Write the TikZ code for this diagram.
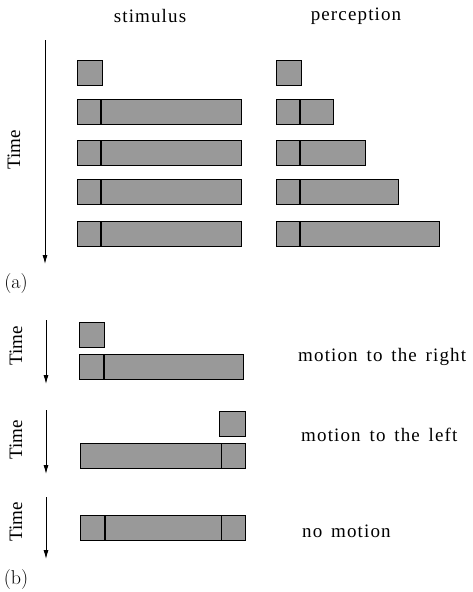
\documentclass[tikz,border=0pt]{standalone}
\usepackage{fontspec}
\setmainfont{Liberation Serif}
\newfontfamily\spc[LetterSpace=6,WordSpace=1.5]{Liberation Serif}
\newfontfamily\lmr{Latin Modern Roman}
\usetikzlibrary{arrows.meta}
\begin{document}
\begin{tikzpicture}[x=1pt,y=-1pt,
  bar/.style={draw,line width=1.3pt,fill=black!40,inner sep=0pt,anchor=north west,minimum height=25pt},
  axis/.style={line width=0.8pt,-{Latex[length=9pt,width=5pt]}},
  lbl/.style={font=\fontsize{19}{19}\spc,inner sep=0pt},
  tlbl/.style={font=\fontsize{19}{19}\selectfont,rotate=90,inner sep=0pt},
  pl/.style={font=\fontsize{20}{20}\lmr,inner sep=0pt}]
\useasboundingbox (0,0) rectangle (473,592);
% (a) headings
\node[lbl] (hs) at (150,16) {stimulus};
\node[lbl] (hp) at (356,16) {perception};
\coordinate (ta1) at (45,40);
\coordinate (ta2) at (45,264);
\draw[axis] (ta1) -- (ta2);
\node[tlbl] (ta) at (14,150) {Time};
\node[pl] (la) at (16,284) {(a)};
% stimulus column
\node[bar,minimum width=25pt] (s1) at (77,60) {};
\node[bar,minimum width=164pt] (s2) at (77,99) {};
\node[bar,minimum width=164pt] (s3) at (77,140) {};
\node[bar,minimum width=164pt] (s4) at (77,179) {};
\node[bar,minimum width=164pt] (s5) at (77,221) {};
% perception column
\node[bar,minimum width=25pt] (p1) at (276,60) {};
\node[bar,minimum width=57pt] (p2) at (276,99) {};
\node[bar,minimum width=89pt] (p3) at (276,140) {};
\node[bar,minimum width=122pt] (p4) at (276,179) {};
\node[bar,minimum width=163pt] (p5) at (276,221) {};
\foreach \n in {s2,s3,s4,s5,p2,p3,p4,p5}{
  \draw[line width=1.3pt] ([xshift=24pt]\n.north west) -- ([xshift=24pt]\n.south west);
}
% (b) row 1
\coordinate (tb1) at (46,320);
\coordinate (tb2) at (46,384);
\draw[axis] (tb1) -- (tb2);
\node[tlbl] (tb) at (16,346) {Time};
\node[bar,minimum width=25pt] (r1a) at (79,322) {};
\node[bar,minimum width=164pt] (r1b) at (79,354) {};
\draw[line width=1.3pt] ([xshift=25pt]r1b.north west) -- ([xshift=25pt]r1b.south west);
\node[lbl,anchor=west] (m1) at (298,357) {motion to the right};
% row 2
\coordinate (tc1) at (46,410);
\coordinate (tc2) at (46,474);
\draw[axis] (tc1) -- (tc2);
\node[tlbl] (tc) at (16,440) {Time};
\node[bar,minimum width=26pt] (r2a) at (219,411) {};
\node[bar,minimum width=165pt] (r2b) at (80,443) {};
\draw[line width=1.3pt] ([xshift=-25pt]r2b.north east) -- ([xshift=-25pt]r2b.south east);
\node[lbl,anchor=west] (m2) at (301,435) {motion to the left};
% row 3
\coordinate (td1) at (46,497);
\coordinate (td2) at (46,559);
\draw[axis] (td1) -- (td2);
\node[tlbl] (td) at (16,522) {Time};
\node[bar,minimum width=165pt] (r3) at (80,515) {};
\draw[line width=1.3pt] ([xshift=25pt]r3.north west) -- ([xshift=25pt]r3.south west);
\draw[line width=1.3pt] ([xshift=-25pt]r3.north east) -- ([xshift=-25pt]r3.south east);
\node[lbl,anchor=west] (m3) at (302,531) {no motion};
\node[pl] (lb) at (16,580) {(b)};
\end{tikzpicture}
\end{document}
